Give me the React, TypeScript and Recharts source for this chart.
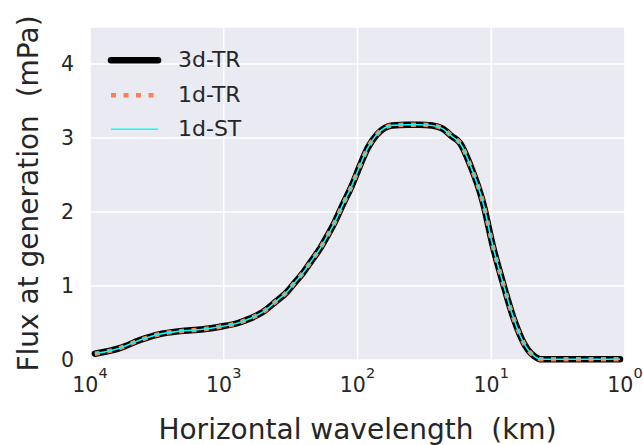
import React from 'react';
import { LineChart, Line, XAxis, YAxis, CartesianGrid, Legend } from 'recharts';

// Horizontal wavelength (km)
const wavelengthKm = [
  9200, 6000, 4230, 3000, 2120, 1430, 1067, 782, 637, 509, 414, 337, 293, 255, 223, 190,
  169, 152, 128, 110, 95.7, 83.6, 71.4, 55.2, 42, 34, 27.7, 23.3, 19.6, 17.1, 14.4, 11.5,
  9.7, 8.17, 6.87, 5.6, 4.47, 4.33, 1.09,
];
// Flux at generation (mPa)
const flux3dTR = [
  0.085, 0.16, 0.27, 0.35, 0.39, 0.415, 0.45, 0.5, 0.56, 0.65, 0.78, 0.92, 1.05, 1.18, 1.33, 1.51,
  1.67, 1.82, 2.11, 2.36, 2.63, 2.87, 3.05, 3.17, 3.18, 3.18, 3.17, 3.13, 3.02, 2.93, 2.64, 2.12,
  1.53, 1.04, 0.585, 0.2, 0.02, 0.01, 0.01,
];
const flux1dTR = [
  0.085, 0.16, 0.27, 0.35, 0.39, 0.415, 0.45, 0.5, 0.56, 0.65, 0.78, 0.92, 1.05, 1.18, 1.33, 1.51,
  1.67, 1.82, 2.11, 2.36, 2.63, 2.87, 3.05, 3.17, 3.18, 3.18, 3.17, 3.13, 3.02, 2.93, 2.64, 2.12,
  1.53, 1.04, 0.585, 0.2, 0.02, 0.01, 0.01,
];
const flux1dST = [
  0.085, 0.16, 0.27, 0.35, 0.39, 0.415, 0.45, 0.5, 0.56, 0.65, 0.78, 0.92, 1.05, 1.18, 1.33, 1.51,
  1.67, 1.82, 2.11, 2.36, 2.63, 2.87, 3.05, 3.17, 3.18, 3.18, 3.17, 3.13, 3.02, 2.93, 2.64, 2.12,
  1.53, 1.04, 0.585, 0.2, 0.02, 0.01, 0.01,
];

const xTicks = [10000, 1000, 100, 10, 1];
const yTicks = [0, 1, 2, 3, 4];
const seriesNames = ['3d-TR', '1d-TR', '1d-ST'];
const xLabel = 'Horizontal wavelength\u00A0\u00A0(km)';
const yLabel = 'Flux at generation\u00A0\u00A0(mPa)';

const data = wavelengthKm.map((w, i) => ({
  w,
  tr3: flux3dTR[i],
  tr1: flux1dTR[i],
  st1: flux1dST[i],
}));

const FONT = '"DejaVu Sans", Verdana, sans-serif';
const TEXT = '#262626';

const seriesStyles = [
  { key: 'tr3', stroke: '#000000', width: 6.5, dash: undefined as string | undefined, cap: 'round' as const },
  { key: 'tr1', stroke: '#FF7F50', width: 4.5, dash: '5 7.5', cap: 'butt' as const },
  { key: 'st1', stroke: '#00FFFF', width: 1.6, dash: undefined as string | undefined, cap: 'butt' as const },
];

const XTick = (props: any) => {
  const { x, y, payload } = props;
  const exp = Math.round(Math.log10(payload.value));
  return (
    <text x={x} y={y + 32} textAnchor="middle" fontFamily={FONT} fontSize={20.5} fill={TEXT}>
      10<tspan dy={-14} fontSize={14.5}>{exp}</tspan>
    </text>
  );
};

const YTick = (props: any) => {
  const { x, y, payload } = props;
  return (
    <text x={x - 16} y={y} dy="0.36em" textAnchor="end" fontFamily={FONT} fontSize={20.5} fill={TEXT}>
      {payload.value}
    </text>
  );
};

const XLabel = (props: any) => {
  const vb = props.viewBox || { x: 90, y: 360, width: 535, height: 85 };
  return (
    <text x={vb.x + vb.width / 2} y={vb.y + 79} textAnchor="middle" fontFamily={FONT} fontSize={28} fill={TEXT}>
      {xLabel}
    </text>
  );
};

const YLabel = (props: any) => {
  const vb = props.viewBox || { x: 0, y: 27, width: 90, height: 333 };
  const cx = vb.x + 38;
  const cy = vb.y + vb.height / 2;
  return (
    <text x={cx} y={cy} transform={`rotate(-90, ${cx}, ${cy})`} textAnchor="middle" fontFamily={FONT} fontSize={28} fill={TEXT}>
      {yLabel}
    </text>
  );
};

const renderLegend = () => (
  <div style={{ display: 'flex', flexDirection: 'column' }}>
    {seriesNames.map((name, i) => {
      const s = seriesStyles[i];
      return (
        <div key={name} style={{ display: 'flex', alignItems: 'center', height: 34.5 }}>
          <svg width={78} height={34.5} style={{ display: 'block' }}>
            <line
              x1={11}
              x2={58}
              y1={17.25}
              y2={17.25}
              stroke={s.stroke}
              strokeWidth={s.width}
              strokeDasharray={s.dash}
              strokeLinecap={s.cap}
            />
          </svg>
          <span style={{ fontFamily: FONT, fontSize: 22, color: TEXT, lineHeight: 1 }}>{name}</span>
        </div>
      );
    })}
  </div>
);

export default function App() {
  return (
    <div style={{ position: 'absolute', left: 0, top: 0, width: 643, height: 445, background: '#fff' }}>
      <LineChart width={643} height={445} data={data} margin={{ top: 27, right: 18, bottom: 0, left: 0 }}>
        <CartesianGrid fill="#EAEAF2" stroke="#FFFFFF" strokeWidth={1.6} />
        <XAxis
          dataKey="w"
          type="number"
          scale="log"
          domain={[1, 10000]}
          reversed
          allowDataOverflow
          ticks={xTicks}
          interval={0}
          height={85}
          axisLine={false}
          tickLine={false}
          tickSize={0}
          tickMargin={0}
          tick={<XTick />}
          label={<XLabel />}
        />
        <YAxis
          type="number"
          domain={[0, 4.5]}
          ticks={yTicks}
          interval={0}
          width={90}
          axisLine={false}
          tickLine={false}
          tickSize={0}
          tickMargin={0}
          tick={<YTick />}
          label={<YLabel />}
        />
        <Legend
          layout="vertical"
          align="center"
          verticalAlign="middle"
          wrapperStyle={{ left: 100, top: 43, width: 200, height: 110 }}
          content={renderLegend}
        />
        {seriesStyles.map((s, i) => (
          <Line
            key={s.key}
            name={seriesNames[i]}
            dataKey={s.key}
            type="monotone"
            stroke={s.stroke}
            strokeWidth={s.width}
            strokeDasharray={s.dash}
            strokeLinecap={s.cap}
            strokeLinejoin="round"
            dot={false}
            activeDot={false}
            isAnimationActive={false}
          />
        ))}
      </LineChart>
    </div>
  );
}
